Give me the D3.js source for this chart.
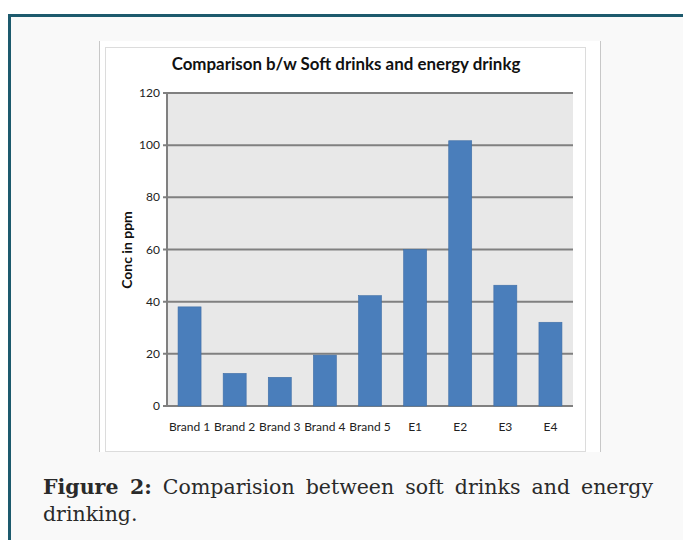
<!DOCTYPE html>
<html>
<head>
<meta charset="utf-8">
<script src="https://cdn.jsdelivr.net/npm/d3@7"></script>
<style>
  body { margin: 0; background: #fff; }
  #page { position: relative; width: 683px; height: 540px; overflow: hidden; }
  #frame {
    position: absolute; left: 8px; top: 14px; width: 700px; height: 560px;
    background: #f9f9f9; border-top: 3px solid #1d5a6d; border-left: 3px solid #1d5a6d;
  }
  svg { position: absolute; left: 0; top: 0; }
  .caption {
    position: absolute; left: 43px; width: 610px;
    font-family: "DejaVu Serif", serif; font-size: 20.5px; color: #2a2a2a;
  }
  #cap1 { top: 475px; text-align: justify; text-align-last: justify; white-space: nowrap; }
  #cap2 { top: 502px; }
</style>
</head>
<body>
<div id="page">
  <div id="frame"></div>
  <svg id="chart-svg" width="683" height="540"></svg>
  <div class="caption" id="cap1"><b>Figure 2:</b> Comparision between soft drinks and energy</div>
  <div class="caption" id="cap2">drinking.</div>
</div>
<script>
// data
const categories = ["Brand 1", "Brand 2", "Brand 3", "Brand 4", "Brand 5", "E1", "E2", "E3", "E4"];
const values = [38, 12.5, 11, 19.5, 42.3, 60, 101.7, 46.3, 32.1];
const yTicks = [0, 20, 40, 60, 80, 100, 120];

const svg = d3.select("#chart-svg");

// picture box and excel chart area
svg.append("rect").attr("x", 99).attr("y", 41).attr("width", 501).attr("height", 411).attr("fill", "#fff");
svg.append("line").attr("x1", 99.5).attr("x2", 99.5).attr("y1", 41).attr("y2", 452).attr("stroke", "#c8c8c8");
svg.append("line").attr("x1", 600.5).attr("x2", 600.5).attr("y1", 41).attr("y2", 452).attr("stroke", "#c8c8c8");
svg.append("rect").attr("x", 105.5).attr("y", 47.5).attr("width", 480).attr("height", 404)
  .attr("fill", "#fff").attr("stroke", "#dcdcdc");

const plot = { left: 167, right: 573, top: 93, bottom: 406 };

const x = d3.scaleBand()
  .domain(categories)
  .range([plot.left, plot.right])
  .paddingInner(0.49)
  .paddingOuter(0.245);

const y = d3.scaleLinear()
  .domain([0, 120])
  .range([plot.bottom, plot.top]);

// plot background
svg.append("rect")
  .attr("x", plot.left).attr("y", plot.top)
  .attr("width", plot.right - plot.left).attr("height", plot.bottom - plot.top)
  .attr("fill", "#e8e8e8");

// gridlines
svg.selectAll(".grid")
  .data(yTicks)
  .enter()
  .append("line")
  .attr("x1", plot.left - 4)
  .attr("x2", plot.right)
  .attr("y1", (d) => y(d))
  .attr("y2", (d) => y(d))
  .attr("stroke", "#808080")
  .attr("stroke-width", 2);

// y axis line
svg.append("line")
  .attr("x1", plot.left).attr("x2", plot.left)
  .attr("y1", plot.top).attr("y2", plot.bottom)
  .attr("stroke", "#808080").attr("stroke-width", 2);

// bars
svg.selectAll(".bar")
  .data(values)
  .enter()
  .append("rect")
  .attr("class", "bar")
  .attr("x", (d, i) => x(categories[i]))
  .attr("y", (d) => y(d))
  .attr("width", x.bandwidth())
  .attr("height", (d) => y(0) - y(d))
  .attr("fill", "#4a7ebb")
  .attr("stroke", "#3f6ea6")
  .attr("stroke-width", 0.6);

// tick labels
svg.selectAll(".ytick")
  .data(yTicks)
  .enter()
  .append("text")
  .attr("x", plot.left - 7)
  .attr("y", (d) => y(d) + 4)
  .attr("text-anchor", "end")
  .attr("font-family", "Lato, sans-serif")
  .attr("font-size", 12)
  .attr("fill", "#222")
  .text((d) => d);

svg.selectAll(".xtick")
  .data(categories)
  .enter()
  .append("text")
  .attr("x", (d) => x(d) + x.bandwidth() / 2)
  .attr("y", 431)
  .attr("text-anchor", "middle")
  .attr("font-family", "Lato, sans-serif")
  .attr("font-size", 12)
  .attr("fill", "#222")
  .text((d) => d);

// axis title
svg.append("text")
  .attr("transform", "translate(132,250) rotate(-90)")
  .attr("text-anchor", "middle")
  .attr("font-family", "Lato, sans-serif")
  .attr("font-weight", "bold")
  .attr("font-size", 14)
  .attr("fill", "#111")
  .text("Conc in ppm");

// chart title, sized to the original width
const title = svg.append("text")
  .attr("x", 346)
  .attr("y", 70)
  .attr("text-anchor", "middle")
  .attr("font-family", "Lato, sans-serif")
  .attr("font-weight", "bold")
  .attr("font-size", 17)
  .attr("fill", "#111")
  .text("Comparison b/w Soft drinks and energy drinkg");
const tw = title.node().getComputedTextLength();
title.attr("font-size", 17 * 349 / tw);
</script>
</body>
</html>
